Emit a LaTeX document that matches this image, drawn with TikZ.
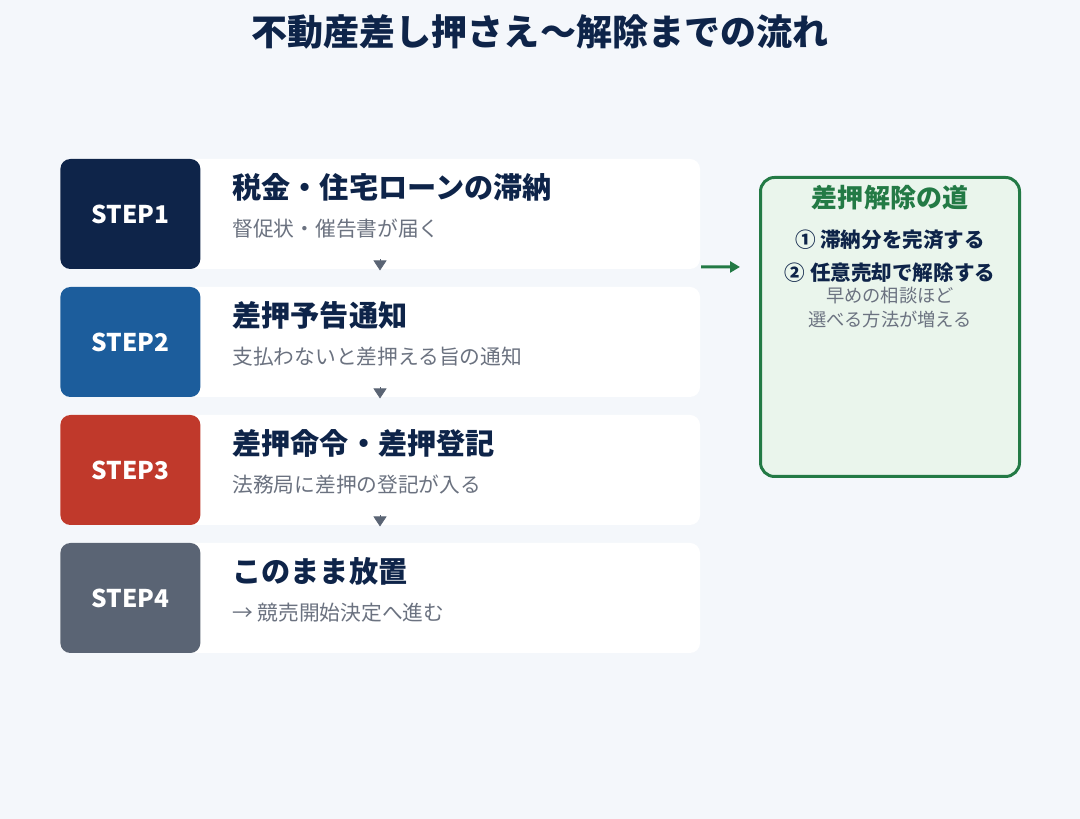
\documentclass[tikz,border=0pt]{standalone}
\usepackage{fontspec}
\setmainfont{Noto Sans CJK JP}
\usetikzlibrary{positioning}
\usetikzlibrary{arrows.meta}
\definecolor{FLOWbg}{HTML}{F4F7FB}
\definecolor{FLOWnavy}{HTML}{0E2449}
\definecolor{FLOWblue}{HTML}{1C5D9C}
\definecolor{FLOWred}{HTML}{C0392B}
\definecolor{FLOWslate}{HTML}{5A6474}
\definecolor{FLOWgrey}{HTML}{6B7280}
\definecolor{FLOWgreen}{HTML}{237A45}
\definecolor{FLOWlightgreen}{HTML}{EAF5EC}

\begin{document}
\begin{tikzpicture}[
  card/.style={fill=white, rounded corners=0.2cm, minimum width=12.8cm, minimum height=2.2cm, inner sep=0pt, outer sep=0pt},
  stepbox/.style={rounded corners=0.2cm, minimum width=2.8cm, minimum height=2.2cm, inner sep=0pt, text=white, font=\bfseries\fontsize{13.9}{15}\selectfont, anchor=west},
  heading/.style={anchor=west, inner sep=0pt, text=FLOWnavy, font=\bfseries\fontsize{16.6}{18}\selectfont},
  subtext/.style={anchor=west, inner sep=0pt, text=FLOWgrey, font=\fontsize{11.8}{13}\selectfont},
  steparrow/.style={draw=FLOWslate, line width=0.4pt, -{Triangle[length=0.2cm,width=0.26cm]}},
  node distance=0.36cm]

% Background
\fill[FLOWbg] (0,0) rectangle (21.6,16.38);
\useasboundingbox (0,0) rectangle (21.6,16.38);

% Title
\node[text=FLOWnavy, font=\bfseries\fontsize{20.5}{22}\selectfont] (title) at (10.8,15.74) {不動産差し押さえ〜解除までの流れ};

% Cards
\node[card] (card1) at (7.6,12.1) {};
\node[card, below=of card1] (card2) {};
\node[card, below=of card2] (card3) {};
\node[card, below=of card3] (card4) {};

\node[stepbox, fill=FLOWnavy] (step1) at (card1.west) {STEP1};
\node[stepbox, fill=FLOWblue] (step2) at (card2.west) {STEP2};
\node[stepbox, fill=FLOWred] (step3) at (card3.west) {STEP3};
\node[stepbox, fill=FLOWslate] (step4) at (card4.west) {STEP4};

\node[heading] (head1) at ([xshift=3.44cm,yshift=-0.56cm]card1.north west) {税金・住宅ローンの滞納};
\node[subtext] (sub1) at ([xshift=3.44cm,yshift=-1.4cm]card1.north west) {督促状・催告書が届く};
\node[heading] (head2) at ([xshift=3.44cm,yshift=-0.56cm]card2.north west) {差押予告通知};
\node[subtext] (sub2) at ([xshift=3.44cm,yshift=-1.4cm]card2.north west) {支払わないと差押える旨の通知};
\node[heading] (head3) at ([xshift=3.44cm,yshift=-0.56cm]card3.north west) {差押命令・差押登記};
\node[subtext] (sub3) at ([xshift=3.44cm,yshift=-1.4cm]card3.north west) {法務局に差押の登記が入る};
\node[heading] (head4) at ([xshift=3.44cm,yshift=-0.56cm]card4.north west) {このまま放置};
\node[subtext] (sub4) at ([xshift=3.44cm,yshift=-1.4cm]card4.north west) {→ 競売開始決定へ進む};

% Step arrows
\draw[steparrow] ([yshift=0.19cm]card1.south) -- ([yshift=-0.03cm]card1.south);
\draw[steparrow] ([yshift=0.19cm]card2.south) -- ([yshift=-0.03cm]card2.south);
\draw[steparrow] ([yshift=0.19cm]card3.south) -- ([yshift=-0.03cm]card3.south);

% Goal box
\node[draw=FLOWgreen, fill=FLOWlightgreen, line width=1.7pt, rounded corners=0.28cm, minimum width=5.18cm, minimum height=5.98cm] (goal) at (17.8,9.84) {};
\node[text=FLOWgreen, font=\bfseries\fontsize{14.8}{16}\selectfont] (goaltitle) at (17.8,12.42) {差押解除の道};
\node[text=FLOWnavy, font=\bfseries\fontsize{11.7}{13}\selectfont] (way1) at (17.8,11.58) {① 滞納分を完済する};
\node[text=FLOWnavy, font=\bfseries\fontsize{11.7}{13}\selectfont] (way2) at (17.8,10.92) {② 任意売却で解除する};
\node[text=FLOWgrey, font=\fontsize{10.4}{13.7}\selectfont, align=center] (advice) at (17.8,10.22) {早めの相談ほど\\選べる方法が増える};

\coordinate (arrowend) at (14.8,11.04);
\draw[draw=FLOWgreen, line width=1.7pt, -{Triangle[length=0.2cm,width=0.22cm]}] ([shift={(0.02,0.04)}]card1.south east) -- (arrowend);

\end{tikzpicture}
\end{document}
